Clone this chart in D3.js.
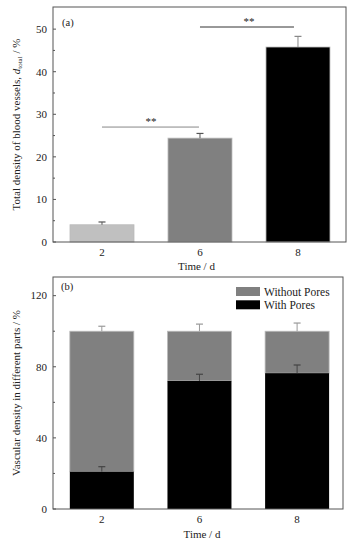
<!DOCTYPE html>
<html><head><meta charset="utf-8">
<script src="https://cdn.jsdelivr.net/npm/d3@7"></script>
<style>body{margin:0;background:#fff}svg{display:block}</style>
</head><body>
<script>
const categories = ["2","6","8"];
const totalDensity = [4.05, 24.4, 45.8];
const totalErr = [0.65, 1.1, 2.5];
const withPores = [21, 72, 76.4];
const withPoresErr = [2.8, 3.8, 4.6];
const withoutPores = [79, 28, 23.6];
const withoutPoresErr = [2.8, 4.0, 4.6];
const yTicksA = [0,10,20,30,40,50];
const yMinorA = [5,15,25,35,45];
const yTicksB = [0,40,80,120];
const yMinorB = [20,60,100];
const sigPairs = [[0,1,27],[1,2,50.5]];

const svg = d3.select("body").append("svg").attr("width",355).attr("height",547)
  .attr("font-family","'Liberation Serif', 'Times New Roman', Times, 'DejaVu Serif', serif")
  .style("font-family","'Liberation Serif', 'Times New Roman', Times, 'DejaVu Serif', serif");
const frameCol = "#555";
const txtCol = "#222";

function frame(g, L, T, R, B){
  g.append("rect").attr("x",L).attr("y",T).attr("width",R-L).attr("height",B-T)
   .attr("fill","none").attr("stroke",frameCol).attr("stroke-width",1);
}
function yAxis(g, y, L, ticks, minor){
  ticks.forEach(t=>{
    g.append("line").attr("x1",L).attr("x2",L+3).attr("y1",y(t)).attr("y2",y(t)).attr("stroke",frameCol);
    g.append("text").attr("x",L-6).attr("y",y(t)+3.8).attr("text-anchor","end").attr("font-size",11).attr("fill",txtCol).text(t);
  });
  minor.forEach(t=>{
    g.append("line").attr("x1",L).attr("x2",L+2).attr("y1",y(t)).attr("y2",y(t)).attr("stroke",frameCol);
  });
}
function xLabels(g, x, B){
  categories.forEach((c,i)=>{
    g.append("text").attr("x",x(i+1)).attr("y",B+14).attr("text-anchor","middle").attr("font-size",11).attr("fill",txtCol).text(c);
  });
}
function errBar(g, cx, y0, y1, col){
  g.append("line").attr("x1",cx).attr("x2",cx).attr("y1",y0).attr("y2",y1).attr("stroke",col).attr("stroke-width",1);
  g.append("line").attr("x1",cx-3.5).attr("x2",cx+3.5).attr("y1",y1).attr("y2",y1).attr("stroke",col).attr("stroke-width",1.2);
}

// Panel (a)
{
  const L=53,T=7,R=346,B=242;
  const g = svg.append("g");
  const x = d3.scaleLinear().domain([0.5,3.49]).range([L,R]);
  const y = d3.scaleLinear().domain([0,55.2]).range([B,T]);
  const bw = 64;
  const cols = ["#c0c0c0","#808080","#000000"];
  const ecols = ["#555","#555","#888"];
  totalDensity.forEach((v,i)=>{
    g.append("rect").attr("x",x(i+1)-bw/2).attr("y",y(v)).attr("width",bw).attr("height",y(0)-y(v))
     .attr("fill",cols[i]).attr("stroke","#bbb").attr("stroke-width",0.8);
    errBar(g, x(i+1), y(v), y(v+totalErr[i]), ecols[i]);
  });
  const sigCols = ["#888","#333"];
  sigPairs.forEach((p,k)=>{
    g.append("line").attr("x1",x(p[0]+1)).attr("x2",x(p[1]+1)-(k===0?1:4)).attr("y1",y(p[2])).attr("y2",y(p[2]))
     .attr("stroke",sigCols[k]).attr("stroke-width",1);
    g.append("text").attr("x",(x(p[0]+1)+x(p[1]+1))/2).attr("y",y(p[2])-2).attr("text-anchor","middle")
     .attr("font-size",11).attr("fill",txtCol).text("**");
  });
  frame(g,L,T,R,B);
  yAxis(g,y,L,yTicksA,yMinorA);
  xLabels(g,x,B);
  g.append("text").attr("x",62).attr("y",26).attr("font-size",10.5).attr("fill",txtCol).text("(a)");
  g.append("text").attr("x",(L+R)/2-3).attr("y",270).attr("text-anchor","middle").attr("font-size",11).attr("fill",txtCol).text("Time / d");
  const yl = g.append("text").attr("transform",`translate(20,${(T+B)/2}) rotate(-90)`).attr("text-anchor","middle").attr("font-size",11).attr("fill",txtCol);
  yl.append("tspan").text("Total density of  blood vessels, ");
  yl.append("tspan").attr("font-style","italic").text("d");
  yl.append("tspan").attr("font-size",7).attr("dy",2).text("total");
  yl.append("tspan").attr("dy",-2).text(" / %");
}

// Panel (b)
{
  const L=53,T=277,R=343,B=509;
  const g = svg.append("g");
  const x = d3.scaleLinear().domain([0.5,3.47]).range([L,R]);
  const y = d3.scaleLinear().domain([0,130.5]).range([B,T]);
  const bw = 64;
  categories.forEach((c,i)=>{
    const cx = x(i+1);
    const w = withPores[i], wo = withoutPores[i];
    g.append("rect").attr("x",cx-bw/2).attr("y",y(w+wo)).attr("width",bw).attr("height",y(w)-y(w+wo))
     .attr("fill","#808080").attr("stroke","#bbb").attr("stroke-width",0.8);
    g.append("rect").attr("x",cx-bw/2).attr("y",y(w)).attr("width",bw).attr("height",y(0)-y(w))
     .attr("fill","#000");
    errBar(g, cx, y(w+wo), y(w+wo+withoutPoresErr[i]), "#999");
    errBar(g, cx, y(w), y(w+withPoresErr[i]), "#444");
  });
  frame(g,L,T,R,B);
  yAxis(g,y,L,yTicksB,yMinorB);
  xLabels(g,x,B);
  g.append("text").attr("x",61).attr("y",290).attr("font-size",10.5).attr("fill",txtCol).text("(b)");
  g.append("text").attr("x",(L+R)/2+4).attr("y",538).attr("text-anchor","middle").attr("font-size",11).attr("fill",txtCol).text("Time / d");
  g.append("text").attr("transform",`translate(20,${(T+B)/2}) rotate(-90)`).attr("text-anchor","middle").attr("font-size",11).attr("fill",txtCol)
   .text("Vascular density in different parts / %");
  const leg = [["Without Pores","#808080"],["With Pores","#000"]];
  leg.forEach((d,k)=>{
    g.append("rect").attr("x",236).attr("y",287+k*13.3).attr("width",24).attr("height",9).attr("fill",d[1]);
    g.append("text").attr("x",264).attr("y",295.5+k*13.3).attr("font-size",11.5).attr("fill",txtCol).text(d[0]);
  });
}
</script>
</body></html>
